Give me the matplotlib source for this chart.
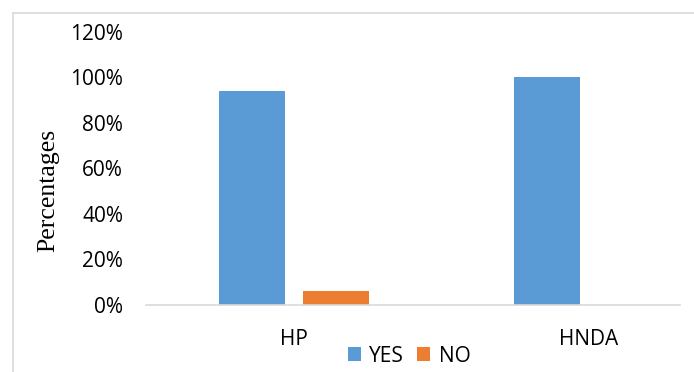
import matplotlib
matplotlib.use("Agg")
import matplotlib.pyplot as plt
import numpy as np
from matplotlib.ticker import PercentFormatter
from matplotlib.lines import Line2D

categories = ["HP", "HNDA"]
yes_values = [0.94, 1.00]
no_values = [0.06, 0.00]
series_names = ["YES", "NO"]
yticks = [0, 0.2, 0.4, 0.6, 0.8, 1.0, 1.2]

BLUE = "#5B9BD5"
ORANGE = "#ED7D31"
GRID = "#D9D9D9"

fig = plt.figure(figsize=(6.94, 3.72), dpi=100)
ax = fig.add_axes([146/694, 1-305/372, (680-146)/694, (305-31.5)/372])

x = np.arange(len(categories))
w = 0.224
off = 0.1424
ax.bar(x - off, yes_values, w, color=BLUE, label=series_names[0])
ax.bar(x + off, no_values, w, color=ORANGE, label=series_names[1])

ax.set_xlim(-0.5, 1.308)
ax.set_ylim(0, 1.2)
ax.set_yticks(yticks)
ax.yaxis.set_major_formatter(PercentFormatter(1.0, decimals=0))
ax.set_xticks(x)
ax.set_xticklabels(categories)
for s in ["top", "right", "left"]:
    ax.spines[s].set_visible(False)
ax.spines["bottom"].set_color(GRID)
ax.spines["bottom"].set_linewidth(1.2)
ax.tick_params(axis="both", length=0, labelsize=15, colors="black")
ax.tick_params(axis="y", pad=16.5)
ax.tick_params(axis="x", pad=17)
for lab in ax.get_xticklabels() + ax.get_yticklabels():
    lab.set_family("Open Sans")

fig.text(48/694, 1-190/372, "Percentages", rotation=90, ha="center", va="center",
         family="Liberation Serif", fontsize=18.5)

# outer frame
fig.add_artist(Line2D([13/694, 1.0], [1-12.5/372]*2, color=GRID, lw=1.2, transform=fig.transFigure))
fig.add_artist(Line2D([13/694]*2, [0, 1-12.5/372], color=GRID, lw=1.2, transform=fig.transFigure))

leg = fig.legend(loc="center", bbox_to_anchor=(409/694, 1-356/372), ncol=2, frameon=False,
                 handlelength=0.65, handleheight=0.65, handletextpad=0.4, columnspacing=0.6,
                 prop={"family": "Open Sans", "size": 15}, borderpad=0)

fig.savefig("out.png", dpi=100)
